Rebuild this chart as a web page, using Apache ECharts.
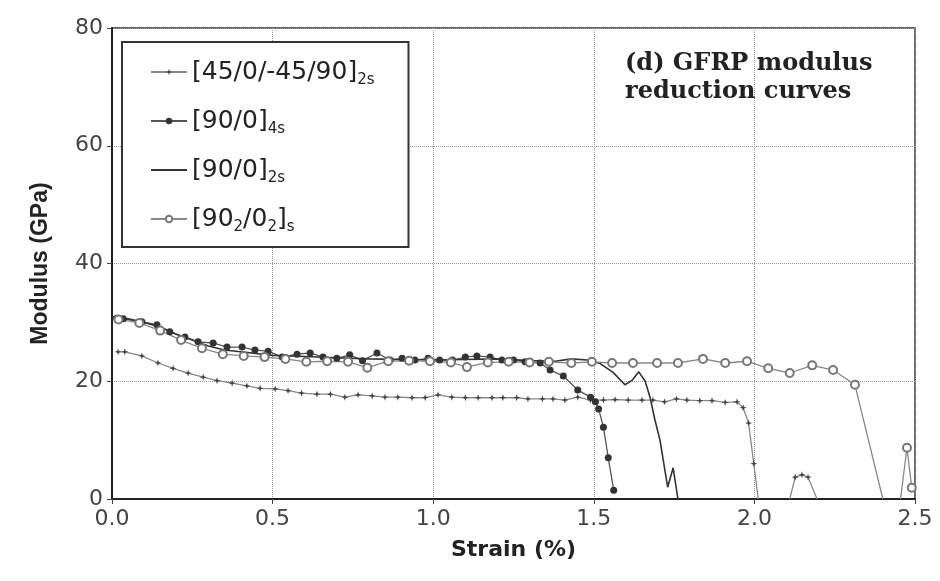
<!DOCTYPE html>
<html>
<head>
<meta charset="utf-8">
<script src="https://cdn.jsdelivr.net/npm/echarts@6/dist/echarts.min.js"></script>
<style>
  html, body { margin: 0; padding: 0; background: #fff; }
  #chart { width: 940px; height: 581px; }
</style>
</head>
<body>
<div id="chart"></div>
<script>
// [45/0/-45/90]2s
const s1Strain = [0.019, 0.04, 0.093, 0.143, 0.19, 0.237, 0.284, 0.327, 0.374, 0.42, 0.461, 0.508, 0.548, 0.59,
  0.638, 0.68, 0.725, 0.766, 0.81, 0.85, 0.89, 0.934, 0.975, 1.015, 1.058, 1.1, 1.14, 1.183, 1.217, 1.26, 1.295,
  1.34, 1.373, 1.41, 1.45, 1.49, 1.53, 1.566, 1.607, 1.65, 1.684, 1.72, 1.757, 1.79, 1.83, 1.868, 1.909, 1.946,
  1.965, 1.982, 1.998, 2.012, null, 2.11, 2.127, 2.148, 2.167, 2.195];
const s1Modulus = [25.0, 25.0, 24.3, 23.1, 22.2, 21.4, 20.7, 20.1, 19.7, 19.2, 18.8, 18.7, 18.4, 18.0,
  17.8, 17.8, 17.3, 17.7, 17.5, 17.3, 17.3, 17.2, 17.2, 17.7, 17.3, 17.2, 17.2, 17.2, 17.2, 17.2, 17.0,
  17.0, 17.0, 16.8, 17.3, 16.8, 16.8, 16.9, 16.8, 16.8, 16.8, 16.5, 17.0, 16.8, 16.7, 16.7, 16.4, 16.5,
  15.5, 12.9, 6.0, 0, null, 0, 3.7, 4.1, 3.7, 0];

// [90/0]4s
const s2Strain = [0.015, 0.035, 0.093, 0.14, 0.18, 0.227, 0.268, 0.315, 0.358, 0.405, 0.445, 0.486, 0.53, 0.576,
  0.617, 0.657, 0.7, 0.74, 0.78, 0.825, 0.866, 0.903, 0.943, 0.984, 1.02, 1.06, 1.1, 1.136, 1.177, 1.214, 1.25,
  1.286, 1.333, 1.364, 1.405, 1.45, 1.49, 1.505, 1.515, 1.53, 1.545, 1.562];
const s2Modulus = [30.7, 30.6, 30.1, 29.6, 28.4, 27.5, 26.7, 26.5, 25.8, 25.8, 25.3, 25.1, 24.1, 24.6,
  24.8, 24.1, 23.9, 24.5, 23.5, 24.8, 23.6, 23.9, 23.6, 23.9, 23.6, 23.6, 24.1, 24.3, 24.1, 23.6, 23.6,
  23.3, 23.1, 21.9, 20.9, 18.5, 17.3, 16.5, 15.3, 12.2, 7.0, 1.5];

// [90/0]2s
const s3Strain = [0.0, 0.05, 0.1, 0.15, 0.2, 0.25, 0.3, 0.35, 0.4, 0.5, 0.6, 0.7, 0.8, 0.9, 1.0, 1.1, 1.2, 1.3,
  1.38, 1.43, 1.48, 1.52, 1.56, 1.597, 1.62, 1.64, 1.66, 1.675, 1.69, 1.706, 1.73, 1.747, 1.762];
const s3Modulus = [31.0, 30.6, 30.0, 29.2, 28.0, 27.0, 26.0, 25.3, 25.0, 24.4, 24.2, 24.0, 23.8, 23.7, 23.6, 23.7,
  23.8, 23.5, 23.4, 23.8, 23.6, 23.0, 21.5, 19.4, 20.2, 21.6, 20.0, 17.3, 13.5, 10.0, 2.0, 5.3, 0];

// [90_2/0_2]s
const s4Strain = [0.02, 0.085, 0.15, 0.215, 0.28, 0.345, 0.41, 0.475, 0.54, 0.605, 0.67, 0.735, 0.795, 0.86,
  0.925, 0.99, 1.055, 1.105, 1.17, 1.235, 1.3, 1.36, 1.43, 1.494, 1.557, 1.622, 1.697, 1.762, 1.84, 1.909,
  1.977, 2.043, 2.11, 2.18, 2.245, 2.313, 2.40, null, 2.455, 2.475, 2.49];
const s4Modulus = [30.5, 29.9, 28.6, 27.0, 25.6, 24.6, 24.3, 24.1, 23.8, 23.3, 23.4, 23.3, 22.3, 23.4,
  23.5, 23.4, 23.2, 22.4, 23.2, 23.3, 23.2, 23.3, 23.1, 23.3, 23.1, 23.1, 23.1, 23.1, 23.8, 23.1,
  23.4, 22.2, 21.4, 22.7, 21.9, 19.4, 0, null, 0, 8.7, 1.9];

const seriesNames = ['[45/0/-45/90]{sub|2s}', '[90/0]{sub|4s}', '[90/0]{sub|2s}', '[90{sub|2}/0{sub|2}]{sub|s}'];
const xTicks = ['0.0', '0.5', '1.0', '1.5', '2.0', '2.5'];

// pair up x/y, no marker on the points that sit on the axis
function pairs(xs, ys) {
  return xs.map((x, i) => {
    if (x === null) return [null, null];
    if (ys[i] === 0) return { value: [x, 0], symbol: 'none' };
    return [x, ys[i]];
  });
}

const starPath = 'path://M0,-10L2.5,-2.5L10,0L2.5,2.5L0,10L-2.5,2.5L-10,0L-2.5,-2.5Z';
const labelFont = 'DejaVu Sans';

const myChart = echarts.init(document.getElementById('chart'));
myChart.setOption({
  backgroundColor: '#fff',
  animation: false,
  title: {
    text: '(d) GFRP modulus\nreduction curves',
    left: 620,
    top: 45,
    textStyle: {
      fontFamily: 'DejaVu Serif',
      fontWeight: 'bold',
      fontSize: 24,
      lineHeight: 28,
      color: '#222'
    }
  },
  grid: {
    left: 112,
    right: 25,
    top: 28,
    bottom: 82,
    show: true,
    borderColor: '#333',
    borderWidth: 1.5
  },
  legend: {
    orient: 'vertical',
    left: 122,
    top: 42,
    padding: [14, 34, 12, 28],
    itemGap: 17,
    itemWidth: 36,
    itemHeight: 8,
    borderColor: '#333',
    borderWidth: 2,
    backgroundColor: '#fff',
    data: [
      seriesNames[0],
      seriesNames[1],
      { name: seriesNames[2], itemStyle: { opacity: 0 } },
      seriesNames[3]
    ],
    textStyle: {
      fontFamily: labelFont,
      fontSize: 25,
      color: '#222',
      lineHeight: 32,
      rich: {
        sub: {
          fontFamily: labelFont,
          fontSize: 15,
          color: '#222',
          verticalAlign: 'bottom',
          lineHeight: 21
        }
      }
    }
  },
  xAxis: {
    type: 'value',
    min: 0,
    max: 2.5,
    interval: 0.5,
    name: 'Strain (%)',
    nameLocation: 'middle',
    nameGap: 40,
    nameTextStyle: { fontFamily: labelFont, fontWeight: 'bold', fontSize: 22, color: '#222' },
    axisLine: { lineStyle: { color: '#222', width: 2 } },
    axisTick: { show: true, inside: false, length: 5, lineStyle: { color: '#444' } },
    axisLabel: {
      fontFamily: labelFont,
      fontSize: 22,
      color: '#444',
      margin: 9,
      formatter: v => xTicks[Math.round(v / 0.5)]
    },
    splitLine: { show: true, lineStyle: { color: '#999', type: 'dotted', width: 1 } }
  },
  yAxis: {
    type: 'value',
    min: 0,
    max: 80,
    interval: 20,
    name: 'Modulus (GPa)',
    nameLocation: 'middle',
    nameGap: 60,
    nameTextStyle: { fontFamily: 'Liberation Sans', fontWeight: 'bold', fontSize: 23, color: '#222' },
    axisLine: { show: true, lineStyle: { color: '#222', width: 2 } },
    axisTick: { show: true, inside: false, length: 5, lineStyle: { color: '#444' } },
    axisLabel: { fontFamily: labelFont, fontSize: 22, color: '#444', margin: 9 },
    splitLine: { show: true, lineStyle: { color: '#999', type: 'dotted', width: 1 } }
  },
  series: [
    {
      name: seriesNames[0],
      type: 'line',
      data: pairs(s1Strain, s1Modulus),
      symbol: starPath,
      symbolSize: 7,
      itemStyle: { color: '#444' },
      lineStyle: { color: '#888', width: 1.3 },
      connectNulls: false
    },
    {
      name: seriesNames[1],
      type: 'line',
      data: pairs(s2Strain, s2Modulus),
      symbol: 'circle',
      symbolSize: 7,
      itemStyle: { color: '#333' },
      lineStyle: { color: '#555', width: 1.3 }
    },
    {
      name: seriesNames[2],
      type: 'line',
      data: pairs(s3Strain, s3Modulus),
      symbol: 'none',
      itemStyle: { color: '#333' },
      lineStyle: { color: '#333', width: 1.6 }
    },
    {
      name: seriesNames[3],
      type: 'line',
      data: pairs(s4Strain, s4Modulus),
      symbol: 'emptyCircle',
      symbolSize: 8,
      itemStyle: { color: '#777', borderWidth: 1.3 },
      lineStyle: { color: '#888', width: 1.3 },
      connectNulls: false
    }
  ]
});
</script>
</body>
</html>
